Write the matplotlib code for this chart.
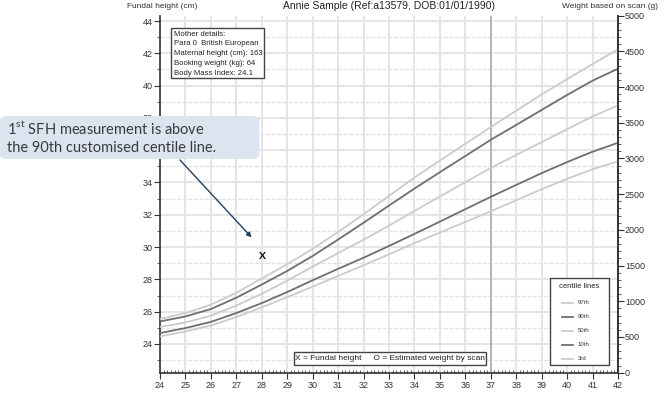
import numpy as np
import matplotlib
matplotlib.use("Agg")
import matplotlib.pyplot as plt
from matplotlib.patches import FancyBboxPatch, Rectangle
from matplotlib.lines import Line2D
from matplotlib.ticker import MultipleLocator

# centile curves of estimated fetal weight (g)
weeks = [24, 25, 26, 27, 28, 29, 30, 31, 32, 33, 34, 35, 36, 37, 38, 39, 40, 41, 42]
c97 = [752, 836, 952, 1120, 1320, 1520, 1735, 1970, 2220, 2476, 2733, 2972, 3206, 3440, 3670, 3898, 4112, 4322, 4529]
c90 = [718, 788, 892, 1050, 1235, 1425, 1635, 1865, 2100, 2341, 2579, 2808, 3035, 3262, 3470, 3680, 3890, 4090, 4258]
c50 = [640, 704, 798, 940, 1105, 1290, 1485, 1675, 1862, 2060, 2266, 2467, 2668, 2868, 3050, 3230, 3410, 3590, 3743]
c10 = [555, 625, 712, 835, 975, 1130, 1295, 1455, 1610, 1775, 1944, 2116, 2290, 2463, 2630, 2795, 2950, 3095, 3220]
c3 = [508, 578, 662, 780, 915, 1058, 1205, 1355, 1505, 1658, 1815, 1962, 2112, 2261, 2415, 2570, 2715, 2850, 2962]

# fundal height measurement
sfh_week = [28]
sfh_cm = [29.5]

edd_week = 37
xticks = list(range(24, 43))
mother_lines = ["Mother details:", "Para 0  British European", "Maternal height (cm): 163",
                "Booking weight (kg): 64", "Body Mass Index: 24.1"]
centile_names = ["97th", "90th", "50th", "10th", "3rd"]

W, H = 667, 395
light = "#cbcbcb"
dark = "#6e6e6e"
gridc = "#e3e3e3"
txtc = "#333333"
plt.rcParams["font.family"] = ["Liberation Sans", "DejaVu Sans"]
plt.rcParams["mathtext.fontset"] = "custom"
plt.rcParams["mathtext.rm"] = "Lato"

def fx(x):
    return x / W

def fy(y):
    return 1 - y / H

fig = plt.figure(figsize=(W / 100, H / 100), dpi=100)
ax = fig.add_axes([fx(160), fy(372.7), 458 / W, 357 / H])
ax.set_xlim(24, 42)
ax.set_ylim(22.22, 44.33)

ax.set_xticks(xticks)
ax.xaxis.set_minor_locator(MultipleLocator(1 / 7))
ax.yaxis.set_major_locator(MultipleLocator(2))
ax.yaxis.set_minor_locator(MultipleLocator(1))
ax.set_yticks(range(24, 45, 2))
ax.grid(which="major", axis="x", color=gridc, lw=1.3)
ax.grid(which="major", axis="y", color=gridc, lw=1.3)
ax.grid(which="minor", axis="y", color=gridc, lw=1.0, ls=(0, (3, 1)))
ax.set_axisbelow(True)
ax.axvline(edd_week, color="#b0b0b0", lw=1.3, zorder=1)

ax.spines["top"].set_visible(False)
for s in ["left", "bottom", "right"]:
    ax.spines[s].set_color("#333333")
    ax.spines[s].set_linewidth(1.2)

ax.tick_params(axis="x", which="major", direction="out", length=4, labelsize=6.5,
               colors="#333333", pad=2)
ax.tick_params(axis="x", which="minor", direction="in", length=2.5, color="#444444")
ax.tick_params(axis="y", which="major", direction="out", length=4, labelsize=6.5,
               colors="#333333", pad=1.5)
ax.tick_params(axis="y", which="minor", direction="out", length=2, color="#444444")

ax2 = ax.twinx()
ax2.set_ylim(0, 5000)
ax2.yaxis.set_major_locator(MultipleLocator(500))
ax2.yaxis.set_minor_locator(MultipleLocator(100))
ax2.tick_params(axis="y", which="major", direction="out", length=4, labelsize=6.5,
                colors="#333333", pad=1)
ax2.tick_params(axis="y", which="minor", direction="out", length=2, color="#444444")
for s in ["top", "left", "bottom"]:
    ax2.spines[s].set_visible(False)
ax2.spines["right"].set_color("#333333")
ax2.spines["right"].set_linewidth(1.2)

for vals, col in [(c97, light), (c90, dark), (c50, light), (c10, dark), (c3, light)]:
    ax2.plot(weeks, vals, color=col, lw=1.3, solid_joinstyle="round")

ax.plot(sfh_week, sfh_cm, ls="none", marker="$\\mathrm{x}$", color="black", ms=5,
        markeredgewidth=0.1, zorder=6)

# header texts
fig.text(fx(127), fy(6), "Fundal height (cm)", fontsize=6, color=txtc, va="center")
fig.text(fx(389), fy(6), "Annie Sample (Ref:a13579, DOB:01/01/1990)", fontsize=7.5,
         color="#222222", va="center", ha="center")
fig.text(fx(658), fy(6), "Weight based on scan (g)", fontsize=6, color=txtc, va="center", ha="right")

# mother details box
fig.patches.append(Rectangle((fx(171), fy(78)), (264 - 171) / W, 50 / H, transform=fig.transFigure,
                             fill=True, fc="white", ec="#444444", lw=1.0, zorder=5))
for i, line in enumerate(mother_lines):
    fig.text(fx(174), fy(34 + i * 9.8), line, fontsize=5.6, color="#222222", va="center", zorder=6)

# bottom legend
fig.patches.append(Rectangle((fx(294), fy(365)), (486 - 294) / W, 13 / H, transform=fig.transFigure,
                             fill=True, fc="white", ec="#444444", lw=1.0, zorder=5))
fig.text(fx(390), fy(358.5), "X = Fundal height     O = Estimated weight by scan", fontsize=6,
         color="#222222", va="center", ha="center", zorder=6)

# centile lines legend
fig.patches.append(Rectangle((fx(550), fy(365)), (609 - 550) / W, 87 / H, transform=fig.transFigure,
                             fill=True, fc="white", ec="#444444", lw=1.0, zorder=5))
fig.text(fx(579.5), fy(286), "centile lines", fontsize=5.5, color="#222222", va="center", ha="center", zorder=6)
for i, (name, col) in enumerate(zip(centile_names, [light, dark, light, dark, light])):
    yy = fy(303 + i * 14)
    fig.lines.append(Line2D([fx(562), fx(573)], [yy, yy], transform=fig.transFigure, color=col, lw=1.3, zorder=6))
    fig.text(fx(578), yy, name, fontsize=4.3, color="#333333", va="center", zorder=6)

# bottom axis captions (cut by the image edge, as in the source)
fig.text(fx(150), fy(399), "Fri", fontsize=6.5, color=txtc, va="center")
fig.text(fx(400), fy(399), "Gestational (weeks)", fontsize=6.5, color=txtc, va="center", ha="center")
fig.text(fx(565), fy(399), "EDD", fontsize=6.5, color=txtc, va="center", ha="center")

# callout
fig.patches.append(FancyBboxPatch((fx(3), fy(157)), (256 - 3) / W, 39 / H,
                                  boxstyle="round,pad=0.005,rounding_size=0.012",
                                  transform=fig.transFigure, fc="#dbe5f0", ec="none", zorder=7))
fig.text(fx(7), fy(128), "1$^{\\mathrm{st}}$ SFH measurement is above", fontsize=10.5,
         family="Lato", color="#3a3a3a", va="center", zorder=8)
fig.text(fx(7), fy(148), "the 90th customised centile line.", fontsize=10.5,
         family="Lato", color="#3a3a3a", va="center", zorder=8)
ax.annotate("", xy=(27.6, 30.6), xycoords="data", xytext=(fx(180), fy(160)), textcoords="figure fraction",
            arrowprops=dict(arrowstyle="-|>", color="#243f5c", lw=1.0, mutation_scale=7,
                            shrinkA=0, shrinkB=0), zorder=8, annotation_clip=False)

fig.savefig("out.png", dpi=100)
